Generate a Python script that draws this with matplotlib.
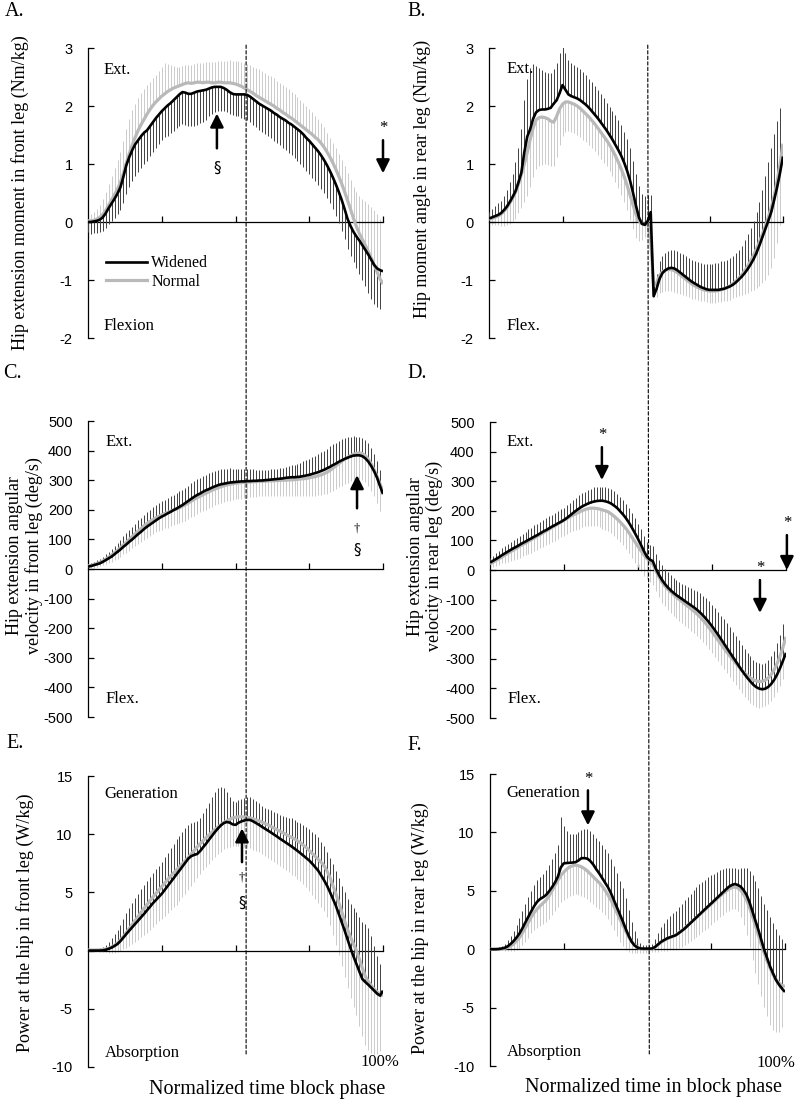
"""
Hip joint kinetics during the block phase: widened vs normal stance.
Six panels (A-F), mean curves with one-sided SD bars at every 1 %.
"""

import matplotlib
matplotlib.use('Agg')
import matplotlib.pyplot as plt
from matplotlib.lines import Line2D
from matplotlib.patches import ConnectionPatch

# normalized time (% of block phase)
PHASE_PCT = list(range(0, 101))

# ---- A: hip extension moment, front leg (Nm/kg)
A_WIDENED = [
    0.00, 0.00, 0.01, 0.02, 0.04, 0.08, 0.15, 0.24, 0.32, 0.40, 0.49,
    0.60, 0.78, 0.98, 1.12, 1.24, 1.34, 1.41, 1.48, 1.54, 1.58,
    1.65, 1.72, 1.79, 1.85, 1.91, 1.96, 2.01, 2.05, 2.10, 2.15,
    2.20, 2.24, 2.23, 2.21, 2.21, 2.23, 2.25, 2.26, 2.27, 2.28,
    2.30, 2.32, 2.33, 2.33, 2.33, 2.31, 2.28, 2.24, 2.21, 2.20,
    2.20, 2.20, 2.20, 2.19, 2.16, 2.12, 2.08, 2.04, 2.01, 1.98,
    1.95, 1.92, 1.88, 1.85, 1.81, 1.78, 1.75, 1.71, 1.68, 1.64,
    1.60, 1.56, 1.51, 1.45, 1.40, 1.34, 1.28, 1.22, 1.15, 1.07,
    0.98, 0.88, 0.77, 0.65, 0.52, 0.38, 0.22, 0.05, -0.07, -0.17,
    -0.25, -0.32, -0.40, -0.48, -0.56, -0.65, -0.74, -0.80, -0.83, -0.85]
A_WIDENED_SD = [
    0.18, 0.20, 0.20, 0.21, 0.22, 0.24, 0.26, 0.28, 0.30, 0.33, 0.36,
    0.40, 0.45, 0.50, 0.52, 0.54, 0.55, 0.55, 0.55, 0.54, 0.53,
    0.52, 0.52, 0.51, 0.51, 0.50, 0.50, 0.52, 0.52, 0.53, 0.53,
    0.54, 0.55, 0.55, 0.56, 0.56, 0.57, 0.57, 0.56, 0.55, 0.52,
    0.48, 0.45, 0.43, 0.42, 0.41, 0.40, 0.39, 0.38, 0.37, 0.37,
    0.38, 0.40, 0.42, 0.43, 0.44, 0.45, 0.45, 0.46, 0.46, 0.47,
    0.47, 0.47, 0.48, 0.48, 0.49, 0.50, 0.51, 0.52, 0.53, 0.54,
    0.55, 0.56, 0.57, 0.57, 0.58, 0.58, 0.58, 0.58, 0.58, 0.57,
    0.57, 0.56, 0.55, 0.55, 0.54, 0.53, 0.52, 0.51, 0.51, 0.52,
    0.54, 0.57, 0.60, 0.63, 0.66, 0.68, 0.68, 0.67, 0.67, 0.65]
A_NORMAL = [
    0.02, 0.02, 0.03, 0.05, 0.08, 0.13, 0.20, 0.29, 0.38, 0.47, 0.57,
    0.68, 0.84, 1.02, 1.18, 1.33, 1.46, 1.58, 1.68, 1.77, 1.86,
    1.94, 2.01, 2.07, 2.12, 2.17, 2.21, 2.25, 2.28, 2.31, 2.33,
    2.35, 2.37, 2.39, 2.40, 2.39, 2.40, 2.41, 2.41, 2.40, 2.41,
    2.41, 2.40, 2.40, 2.41, 2.41, 2.40, 2.40, 2.40, 2.39, 2.38,
    2.36, 2.34, 2.31, 2.28, 2.25, 2.22, 2.18, 2.15, 2.12, 2.09,
    2.06, 2.03, 2.00, 1.96, 1.93, 1.89, 1.86, 1.82, 1.79, 1.75,
    1.71, 1.67, 1.63, 1.59, 1.55, 1.51, 1.46, 1.42, 1.36, 1.29,
    1.21, 1.12, 1.02, 0.91, 0.79, 0.66, 0.52, 0.37, 0.22, 0.06,
    -0.08, -0.20, -0.30, -0.40, -0.51, -0.62, -0.74, -0.86, -0.98, -1.07]
A_NORMAL_SD = [
    0.10, 0.12, 0.15, 0.18, 0.22, 0.27, 0.32, 0.37, 0.42, 0.46, 0.50,
    0.53, 0.56, 0.58, 0.60, 0.60, 0.58, 0.56, 0.54, 0.52, 0.50,
    0.48, 0.47, 0.47, 0.48, 0.50, 0.54, 0.48, 0.42, 0.38, 0.35,
    0.33, 0.32, 0.31, 0.31, 0.31, 0.32, 0.33, 0.33, 0.34, 0.35,
    0.35, 0.36, 0.36, 0.37, 0.37, 0.38, 0.38, 0.39, 0.39, 0.40,
    0.41, 0.42, 0.43, 0.44, 0.45, 0.46, 0.47, 0.48, 0.48, 0.48,
    0.48, 0.48, 0.48, 0.47, 0.47, 0.47, 0.47, 0.47, 0.46, 0.45,
    0.44, 0.43, 0.42, 0.41, 0.40, 0.38, 0.37, 0.36, 0.35, 0.34,
    0.33, 0.33, 0.34, 0.36, 0.38, 0.41, 0.44, 0.47, 0.50, 0.54,
    0.59, 0.64, 0.70, 0.76, 0.82, 0.88, 0.94, 0.99, 1.03, 1.05]

# ---- B: hip moment, rear leg (Nm/kg)
B_WIDENED = [
    0.06, 0.08, 0.10, 0.12, 0.15, 0.20, 0.26, 0.34, 0.43, 0.53, 0.68,
    0.85, 1.20, 1.47, 1.60, 1.78, 1.89, 1.93, 1.94, 1.94, 1.95,
    1.97, 2.04, 2.10, 2.22, 2.36, 2.28, 2.20, 2.17, 2.15, 2.13,
    2.10, 2.06, 2.02, 1.97, 1.91, 1.85, 1.79, 1.72, 1.65, 1.58,
    1.50, 1.42, 1.33, 1.24, 1.14, 1.02, 0.88, 0.71, 0.50, 0.28,
    0.08, -0.03, -0.05, 0.02, 0.17, -1.28, -1.15, -0.98, -0.88, -0.83,
    -0.80, -0.79, -0.80, -0.83, -0.87, -0.91, -0.95, -0.99, -1.03, -1.06,
    -1.09, -1.12, -1.14, -1.16, -1.17, -1.17, -1.17, -1.17, -1.16, -1.15,
    -1.13, -1.11, -1.08, -1.04, -0.99, -0.94, -0.88, -0.81, -0.73, -0.64,
    -0.53, -0.40, -0.26, -0.12, 0.02, 0.17, 0.38, 0.60, 0.85, 1.13]
B_WIDENED_SD = [
    0.12, 0.15, 0.18, 0.20, 0.22, 0.25, 0.30, 0.35, 0.40, 0.50, 0.60,
    0.75, 0.90, 1.00, 1.05, 0.95, 0.80, 0.72, 0.68, 0.65, 0.62,
    0.60, 0.60, 0.64, 0.70, 0.68, 0.64, 0.60, 0.57, 0.55, 0.54,
    0.53, 0.52, 0.51, 0.50, 0.50, 0.49, 0.49, 0.48, 0.48, 0.48,
    0.49, 0.50, 0.51, 0.52, 0.53, 0.54, 0.55, 0.56, 0.56, 0.55,
    0.54, 0.52, 0.50, 0.45, 0.30, 0.20, 0.25, 0.30, 0.30, 0.30,
    0.30, 0.31, 0.32, 0.33, 0.34, 0.35, 0.36, 0.37, 0.38, 0.39,
    0.40, 0.41, 0.42, 0.43, 0.44, 0.45, 0.46, 0.47, 0.48, 0.48,
    0.48, 0.49, 0.49, 0.50, 0.50, 0.53, 0.57, 0.60, 0.63, 0.66,
    0.70, 0.75, 0.82, 0.92, 1.02, 1.10, 1.14, 1.15, 1.12, 1.10]
B_NORMAL = [
    0.05, 0.06, 0.08, 0.10, 0.13, 0.18, 0.24, 0.32, 0.41, 0.51, 0.65,
    0.82, 1.00, 1.20, 1.42, 1.62, 1.76, 1.80, 1.81, 1.80, 1.78,
    1.74, 1.72, 1.82, 1.95, 2.03, 2.07, 2.07, 2.05, 2.03, 2.00,
    1.96, 1.91, 1.86, 1.81, 1.75, 1.69, 1.62, 1.55, 1.48, 1.41,
    1.33, 1.24, 1.14, 1.03, 0.91, 0.78, 0.63, 0.46, 0.29, 0.13,
    0.02, -0.03, -0.04, -0.02, -0.30, -1.10, -1.05, -0.92, -0.86, -0.83,
    -0.82, -0.82, -0.84, -0.87, -0.91, -0.95, -0.99, -1.03, -1.07, -1.10,
    -1.13, -1.15, -1.17, -1.18, -1.19, -1.19, -1.19, -1.18, -1.17, -1.15,
    -1.13, -1.10, -1.06, -1.02, -0.97, -0.91, -0.84, -0.76, -0.67, -0.57,
    -0.46, -0.34, -0.21, -0.07, 0.08, 0.25, 0.45, 0.70, 1.00, 1.35]
B_NORMAL_SD = [
    0.10, 0.12, 0.14, 0.16, 0.20, 0.25, 0.30, 0.35, 0.40, 0.45, 0.50,
    0.58, 0.66, 0.75, 0.82, 0.85, 0.85, 0.84, 0.82, 0.80, 0.80,
    0.78, 0.76, 0.70, 0.62, 0.55, 0.52, 0.50, 0.50, 0.50, 0.50,
    0.49, 0.49, 0.48, 0.48, 0.48, 0.47, 0.47, 0.46, 0.46, 0.45,
    0.45, 0.45, 0.45, 0.45, 0.45, 0.44, 0.43, 0.42, 0.41, 0.40,
    0.35, 0.28, 0.22, 0.18, 0.15, 0.20, 0.25, 0.30, 0.34, 0.36,
    0.37, 0.37, 0.36, 0.35, 0.33, 0.31, 0.29, 0.27, 0.25, 0.23,
    0.22, 0.21, 0.20, 0.20, 0.20, 0.20, 0.20, 0.20, 0.21, 0.22,
    0.23, 0.24, 0.25, 0.27, 0.30, 0.35, 0.40, 0.46, 0.52, 0.60,
    0.68, 0.76, 0.85, 0.93, 1.00, 1.05, 1.07, 1.07, 1.05, 1.05]

# ---- C: hip extension angular velocity, front leg (deg/s)
C_WIDENED = [
    8, 10, 13, 16, 19, 24, 30, 36, 42, 50, 58,
    66, 75, 83, 92, 100, 109, 118, 126, 135, 143,
    150, 157, 164, 171, 177, 182, 188, 193, 199, 204,
    210, 216, 223, 230, 237, 244, 250, 255, 261, 266,
    270, 275, 279, 283, 286, 288, 290, 292, 293, 294,
    295, 296, 296, 297, 297, 298, 298, 299, 299, 300,
    301, 302, 303, 304, 305, 306, 308, 309, 310, 310,
    311, 312, 314, 316, 318, 321, 324, 327, 331, 335,
    340, 345, 351, 356, 362, 367, 372, 376, 380, 383,
    384, 384, 381, 374, 363, 348, 330, 308, 280, 253]
C_WIDENED_SD = [
    10, 11, 12, 14, 16, 18, 20, 23, 26, 28, 30,
    33, 35, 38, 40, 42, 44, 46, 47, 49, 50,
    51, 51, 52, 52, 52, 52, 52, 52, 52, 52,
    52, 52, 52, 52, 52, 52, 53, 53, 53, 53,
    53, 53, 52, 52, 52, 50, 49, 48, 46, 45,
    44, 43, 42, 41, 40, 39, 38, 37, 36, 35,
    35, 35, 35, 35, 35, 36, 37, 38, 40, 42,
    44, 47, 50, 53, 55, 57, 59, 61, 63, 65,
    67, 69, 70, 71, 72, 72, 71, 69, 67, 65,
    63, 62, 62, 62, 62, 61, 60, 58, 55, 52]
C_NORMAL = [
    10, 12, 15, 18, 22, 27, 33, 40, 47, 55, 63,
    72, 81, 90, 100, 110, 119, 128, 137, 146, 154,
    161, 167, 173, 178, 183, 187, 191, 195, 199, 203,
    207, 212, 217, 223, 229, 235, 241, 246, 251, 256,
    261, 266, 270, 274, 278, 281, 284, 286, 288, 290,
    291, 292, 293, 294, 294, 295, 295, 296, 296, 297,
    297, 298, 298, 299, 299, 300, 300, 301, 301, 302,
    303, 304, 305, 306, 308, 310, 312, 315, 318, 322,
    327, 333, 340, 348, 356, 364, 371, 377, 383, 388,
    391, 392, 390, 383, 371, 355, 335, 312, 287, 262]
C_NORMAL_SD = [
    8, 9, 10, 12, 13, 15, 17, 20, 23, 25, 28,
    30, 32, 35, 38, 40, 42, 44, 45, 47, 48,
    48, 49, 49, 50, 50, 50, 51, 51, 52, 52,
    53, 53, 54, 54, 55, 55, 55, 55, 55, 55,
    55, 55, 55, 55, 55, 55, 55, 55, 55, 55,
    54, 54, 53, 53, 52, 52, 51, 51, 50, 50,
    50, 51, 51, 52, 52, 53, 53, 54, 54, 55,
    56, 57, 58, 59, 60, 62, 64, 66, 68, 70,
    72, 74, 76, 78, 80, 82, 84, 85, 87, 88,
    89, 89, 90, 90, 90, 90, 90, 90, 92, 95]

# ---- D: hip extension angular velocity, rear leg (deg/s)
D_WIDENED = [
    25, 31, 37, 43, 50, 56, 62, 68, 74, 79, 85,
    91, 96, 102, 107, 113, 118, 124, 130, 135, 141,
    147, 152, 158, 163, 169, 176, 184, 192, 200, 207,
    214, 219, 224, 228, 231, 233, 234, 234, 232, 229,
    224, 217, 209, 198, 187, 174, 159, 142, 124, 105,
    85, 64, 45, 35, 30, 5, -15, -32, -46, -58,
    -68, -77, -85, -92, -99, -106, -113, -120, -127, -135,
    -144, -154, -165, -177, -190, -204, -218, -233, -248, -263,
    -278, -293, -308, -323, -338, -352, -365, -377, -388, -396,
    -401, -403, -401, -395, -385, -371, -353, -331, -306, -280]
D_WIDENED_SD = [
    15, 17, 19, 21, 23, 25, 26, 27, 28, 29, 30,
    32, 33, 35, 36, 38, 38, 39, 39, 40, 40,
    40, 41, 41, 42, 42, 43, 43, 44, 44, 45,
    45, 46, 46, 47, 48, 48, 48, 48, 48, 48,
    48, 49, 49, 50, 50, 50, 51, 51, 52, 52,
    52, 52, 51, 51, 50, 50, 50, 50, 50, 50,
    51, 51, 52, 52, 53, 54, 56, 58, 60, 63,
    65, 67, 69, 71, 73, 75, 77, 79, 81, 83,
    84, 85, 85, 85, 85, 85, 85, 85, 85, 85,
    86, 87, 88, 90, 93, 98, 105, 113, 122, 135]
D_NORMAL = [
    20, 26, 32, 38, 44, 50, 56, 62, 68, 74, 80,
    86, 91, 97, 103, 108, 114, 120, 126, 132, 138,
    144, 150, 156, 162, 168, 174, 180, 185, 190, 195,
    200, 204, 207, 209, 209, 208, 206, 203, 200, 196,
    189, 181, 172, 162, 151, 139, 125, 110, 95, 80,
    65, 51, 39, 30, 20, -2, -22, -40, -53, -64,
    -74, -83, -92, -100, -108, -116, -124, -132, -140, -149,
    -159, -170, -182, -195, -208, -222, -236, -250, -264, -277,
    -290, -302, -314, -326, -338, -348, -357, -365, -371, -375,
    -377, -376, -372, -365, -353, -337, -316, -291, -260, -226]
D_NORMAL_SD = [
    12, 15, 17, 20, 22, 25, 28, 31, 33, 36, 38,
    40, 41, 43, 44, 45, 46, 47, 48, 49, 50,
    50, 51, 51, 52, 52, 53, 53, 54, 54, 55,
    56, 57, 58, 59, 60, 61, 62, 63, 64, 65,
    65, 66, 67, 67, 68, 68, 69, 69, 70, 70,
    70, 70, 70, 70, 70, 70, 70, 70, 70, 70,
    71, 71, 71, 72, 72, 72, 72, 73, 73, 73,
    73, 73, 72, 72, 72, 72, 71, 71, 70, 70,
    71, 72, 74, 76, 78, 80, 82, 84, 86, 87,
    88, 88, 89, 89, 90, 92, 95, 100, 108, 118]

# ---- E: hip power, front leg (W/kg)
E_WIDENED = [
    0.00, 0.00, 0.00, 0.00, 0.00, 0.02, 0.07, 0.15, 0.26, 0.40, 0.57,
    0.82, 1.12, 1.43, 1.72, 2.01, 2.30, 2.58, 2.87, 3.15, 3.46,
    3.76, 4.07, 4.34, 4.61, 4.88, 5.21, 5.55, 5.88, 6.21, 6.55,
    6.88, 7.22, 7.56, 7.90, 8.12, 8.22, 8.30, 8.55, 8.87, 9.18,
    9.52, 9.85, 10.18, 10.48, 10.75, 10.95, 11.05, 11.00, 10.85, 10.80,
    10.98, 11.10, 11.18, 11.23, 11.22, 11.10, 10.95, 10.80, 10.63, 10.47,
    10.31, 10.15, 9.98, 9.81, 9.63, 9.46, 9.29, 9.12, 8.95, 8.76,
    8.57, 8.37, 8.16, 7.95, 7.74, 7.47, 7.18, 6.88, 6.48, 6.05,
    5.59, 5.04, 4.46, 3.87, 3.16, 2.44, 1.72, 0.95, 0.20, -0.50,
    -1.15, -1.80, -2.44, -2.70, -2.93, -3.18, -3.44, -3.70, -3.87, -3.44]
E_WIDENED_SD = [
    0.10, 0.10, 0.10, 0.15, 0.20, 0.30, 0.45, 0.60, 0.80, 1.00, 1.20,
    1.40, 1.60, 1.80, 1.95, 2.10, 2.20, 2.30, 2.40, 2.45, 2.50,
    2.55, 2.60, 2.65, 2.70, 2.75, 2.80, 2.85, 2.90, 2.95, 3.00,
    3.00, 3.00, 2.95, 2.90, 2.85, 2.80, 2.80, 2.85, 2.95, 3.05,
    3.20, 3.35, 3.45, 3.45, 3.30, 3.00, 2.60, 2.20, 2.00, 1.95,
    1.95, 1.95, 1.95, 2.00, 2.00, 1.95, 1.90, 1.85, 1.80, 1.80,
    1.85, 1.90, 1.95, 2.00, 2.05, 2.10, 2.20, 2.30, 2.40, 2.45,
    2.50, 2.55, 2.60, 2.65, 2.70, 2.75, 2.80, 2.85, 2.85, 2.90,
    2.90, 2.95, 2.95, 3.00, 3.05, 3.15, 3.30, 3.50, 3.80, 4.20,
    4.50, 4.70, 4.90, 5.00, 4.90, 4.40, 3.80, 3.20, 2.70, 2.30]
E_NORMAL = [
    0.05, 0.05, 0.05, 0.05, 0.06, 0.08, 0.12, 0.20, 0.32, 0.46, 0.64,
    0.90, 1.20, 1.55, 1.90, 2.25, 2.60, 2.95, 3.30, 3.63, 3.95,
    4.28, 4.60, 4.90, 5.20, 5.50, 5.80, 6.10, 6.40, 6.67, 6.93,
    7.20, 7.47, 7.73, 8.00, 8.30, 8.60, 8.90, 9.17, 9.44, 9.70,
    9.93, 10.17, 10.40, 10.60, 10.80, 11.00, 11.13, 11.27, 11.40, 11.45,
    11.50, 11.50, 11.47, 11.43, 11.40, 11.32, 11.23, 11.15, 11.03, 10.92,
    10.80, 10.67, 10.53, 10.40, 10.27, 10.13, 10.00, 9.87, 9.73, 9.60,
    9.43, 9.27, 9.05, 8.85, 8.60, 8.35, 8.10, 7.85, 7.60, 7.30,
    6.85, 6.30, 5.60, 4.90, 4.15, 3.35, 2.55, 1.80, 1.15, 0.55,
    0.00, -0.75, -1.50, -2.20, -2.65, -3.00, -3.30, -3.55, -3.75, -3.90]
E_NORMAL_SD = [
    0.10, 0.10, 0.10, 0.12, 0.15, 0.20, 0.28, 0.38, 0.50, 0.65, 0.80,
    0.95, 1.10, 1.30, 1.50, 1.70, 1.85, 2.00, 2.15, 2.30, 2.40,
    2.50, 2.60, 2.65, 2.70, 2.75, 2.80, 2.85, 2.90, 2.95, 3.00,
    2.95, 2.90, 2.85, 2.80, 2.75, 2.70, 2.65, 2.60, 2.55, 2.50,
    2.45, 2.40, 2.35, 2.30, 2.30, 2.30, 2.35, 2.40, 2.40, 2.45,
    2.50, 2.50, 2.55, 2.60, 2.60, 2.65, 2.70, 2.70, 2.75, 2.80,
    2.85, 2.90, 2.95, 3.00, 3.00, 3.05, 3.10, 3.15, 3.20, 3.20,
    3.25, 3.30, 3.35, 3.40, 3.50, 3.60, 3.70, 3.80, 3.85, 3.90,
    4.00, 4.10, 4.25, 4.40, 4.55, 4.70, 4.85, 5.00, 5.20, 5.40,
    5.55, 5.70, 5.80, 5.90, 5.90, 5.80, 5.60, 5.30, 4.90, 4.20]

# ---- F: hip power, rear leg (W/kg)
F_WIDENED = [
    0.00, 0.00, 0.00, 0.02, 0.06, 0.12, 0.25, 0.45, 0.70, 1.00, 1.35,
    1.80, 2.30, 2.78, 3.25, 3.70, 4.07, 4.30, 4.45, 4.64, 4.95,
    5.30, 5.70, 6.20, 7.00, 7.35, 7.38, 7.40, 7.42, 7.45, 7.60,
    7.79, 7.80, 7.75, 7.55, 7.25, 6.85, 6.50, 6.10, 5.70, 5.30,
    4.80, 4.20, 3.60, 3.00, 2.40, 1.75, 1.15, 0.65, 0.32, 0.14,
    0.06, 0.05, 0.05, 0.05, 0.06, 0.20, 0.42, 0.63, 0.78, 0.92,
    1.02, 1.11, 1.20, 1.38, 1.57, 1.77, 2.01, 2.25, 2.49, 2.73,
    2.97, 3.21, 3.45, 3.69, 3.92, 4.16, 4.40, 4.64, 4.88, 5.12,
    5.35, 5.50, 5.58, 5.50, 5.35, 5.05, 4.64, 4.00, 3.21, 2.42,
    1.63, 0.77, -0.09, -0.80, -1.52, -2.10, -2.66, -3.05, -3.38, -3.66]
F_WIDENED_SD = [
    0.05, 0.05, 0.10, 0.15, 0.25, 0.35, 0.50, 0.70, 0.90, 1.10, 1.30,
    1.45, 1.60, 1.70, 1.75, 1.80, 1.85, 1.90, 2.00, 2.10, 2.25,
    2.40, 2.55, 2.70, 4.30, 3.20, 2.70, 2.50, 2.45, 2.40, 2.40,
    2.40, 2.45, 2.50, 2.55, 2.60, 2.70, 2.75, 2.80, 2.85, 2.90,
    2.90, 2.90, 2.90, 2.85, 2.80, 2.60, 2.20, 1.70, 1.20, 0.80,
    0.50, 0.35, 0.30, 0.30, 0.40, 0.70, 1.00, 1.30, 1.50, 1.70,
    1.85, 2.00, 2.10, 2.20, 2.30, 2.40, 2.45, 2.50, 2.55, 2.60,
    2.60, 2.55, 2.50, 2.45, 2.40, 2.30, 2.20, 2.10, 2.00, 1.80,
    1.60, 1.45, 1.35, 1.40, 1.60, 1.90, 2.30, 2.70, 3.10, 3.40,
    3.60, 3.80, 4.00, 4.15, 4.30, 4.35, 4.35, 4.30, 4.25, 4.20]
F_NORMAL = [
    0.00, 0.00, 0.00, 0.00, 0.03, 0.08, 0.15, 0.28, 0.45, 0.70, 1.00,
    1.40, 1.85, 2.30, 2.75, 3.15, 3.45, 3.70, 3.95, 4.20, 4.55,
    5.00, 5.45, 5.90, 6.30, 6.60, 6.85, 7.05, 7.15, 7.20, 7.15,
    7.05, 6.90, 6.70, 6.45, 6.20, 5.95, 5.70, 5.40, 5.05, 4.65,
    4.20, 3.70, 3.15, 2.60, 2.05, 1.55, 1.05, 0.65, 0.35, 0.15,
    0.05, 0.00, 0.00, 0.00, 0.02, 0.20, 0.40, 0.60, 0.75, 0.88,
    1.00, 1.10, 1.22, 1.40, 1.60, 1.80, 2.03, 2.26, 2.49, 2.72,
    2.95, 3.18, 3.41, 3.64, 3.87, 4.10, 4.33, 4.55, 4.77, 4.97,
    5.15, 5.28, 5.32, 5.25, 5.05, 4.70, 4.20, 3.55, 2.80, 2.00,
    1.20, 0.40, -0.35, -1.05, -1.65, -2.20, -2.60, -2.90, -3.10, -3.20]
F_NORMAL_SD = [
    0.05, 0.05, 0.05, 0.08, 0.12, 0.20, 0.30, 0.45, 0.60, 0.75, 0.90,
    1.05, 1.20, 1.30, 1.40, 1.50, 1.60, 1.70, 1.80, 1.90, 2.00,
    2.10, 2.20, 2.25, 2.30, 2.40, 2.45, 2.50, 2.50, 2.50, 2.50,
    2.50, 2.45, 2.40, 2.40, 2.30, 2.30, 2.25, 2.20, 2.15, 2.10,
    2.10, 2.05, 2.00, 1.95, 1.80, 1.60, 1.30, 1.00, 0.70, 0.50,
    0.35, 0.30, 0.30, 0.30, 0.30, 0.40, 0.60, 0.75, 0.90, 1.00,
    1.10, 1.20, 1.25, 1.30, 1.40, 1.45, 1.50, 1.60, 1.65, 1.70,
    1.75, 1.75, 1.80, 1.80, 1.80, 1.80, 1.80, 1.80, 1.80, 1.80,
    1.85, 1.85, 1.90, 2.00, 2.30, 2.60, 3.00, 3.40, 3.70, 4.00,
    4.20, 4.40, 4.60, 4.70, 4.80, 4.70, 4.50, 4.20, 3.60, 2.80]

# figure size in pixels and colours
FIG_W, FIG_H = 797, 1100
BLACK_BAR = '#404040'
GRAY_BAR = '#cbcbcb'
GRAY_LINE = '#b9b9b9'
SERIF = 'Liberation Serif'
SANS = 'Liberation Sans'


def px_box(left, top, right, bottom):
    """Convert a pixel box (origin top-left) to figure fractions."""
    return [left / FIG_W, 1 - bottom / FIG_H, (right - left) / FIG_W, (bottom - top) / FIG_H]


def draw_series(ax, wid, wid_sd, nor, nor_sd, widened_down):
    """Mean curves plus one-sided SD bars at every percent."""
    for arr in (wid, wid_sd, nor, nor_sd):
        assert len(arr) == len(PHASE_PCT)
    if widened_down:
        wid_end = [m - s for m, s in zip(wid, wid_sd)]
        nor_end = [m + s for m, s in zip(nor, nor_sd)]
    else:
        wid_end = [m + s for m, s in zip(wid, wid_sd)]
        nor_end = [m - s for m, s in zip(nor, nor_sd)]
    ax.vlines(PHASE_PCT, nor, nor_end, colors=GRAY_BAR, lw=0.7, zorder=2)
    ax.vlines(PHASE_PCT, wid, wid_end, colors=BLACK_BAR, lw=0.7, zorder=3)
    ax.plot(PHASE_PCT, nor, color=GRAY_LINE, lw=2.3, zorder=4, solid_capstyle='butt')
    ax.plot(PHASE_PCT, wid, color='black', lw=1.9, zorder=5, solid_capstyle='butt')


def style_axis(ax, ylim, yticks, ylabel, label_xy):
    ax.set_xlim(0, 100)
    ax.set_ylim(*ylim)
    ax.set_yticks(yticks)
    ax.set_xticks([25, 50, 75, 100])
    ax.set_xticklabels([])
    for side in ('top', 'right'):
        ax.spines[side].set_visible(False)
    ax.spines['bottom'].set_position(('data', 0))
    ax.spines['bottom'].set_linewidth(0.9)
    ax.spines['left'].set_linewidth(0.9)
    ax.tick_params(axis='x', direction='in', length=4, width=0.9)
    ax.tick_params(axis='y', direction='in', length=4, width=0.9, pad=11, labelsize=10.5)
    for lbl in ax.get_yticklabels():
        lbl.set_fontfamily(SANS)
    ax.set_ylabel(ylabel, fontsize=13, fontfamily=SERIF, va='center',
                  multialignment='center', linespacing=1.15)
    ax.yaxis.set_label_coords(*label_xy)
    ax.patch.set_alpha(0)


def arrow(ax, x, y_from, y_to):
    ax.annotate('', xy=(x, y_to), xytext=(x, y_from),
                arrowprops=dict(arrowstyle='-|>', color='black', lw=1.8,
                                mutation_scale=20, shrinkA=0, shrinkB=0),
                annotation_clip=False, zorder=6)


def note(ax, x, y, s, size=11, family='DejaVu Sans'):
    ax.text(x, y, s, ha='center', va='center', fontsize=size, fontfamily=family,
            clip_on=False, zorder=6)


def side_text(ax, x, y, s):
    ax.text(x, y, s, ha='left', va='center', fontsize=12, fontfamily=SERIF, zorder=6)


def main():
    plt.rcParams['font.family'] = SERIF
    plt.rcParams['axes.unicode_minus'] = False
    fig = plt.figure(figsize=(FIG_W / 100, FIG_H / 100), dpi=100)

    ax_a = fig.add_axes(px_box(88, 48, 383, 338))
    ax_b = fig.add_axes(px_box(489, 48, 783, 338))
    ax_c = fig.add_axes(px_box(88, 421, 383, 717))
    ax_d = fig.add_axes(px_box(490, 422, 786, 718))
    ax_e = fig.add_axes(px_box(88, 776, 383, 1067))
    ax_f = fig.add_axes(px_box(490, 774, 785, 1066))

    draw_series(ax_a, A_WIDENED, A_WIDENED_SD, A_NORMAL, A_NORMAL_SD, True)
    draw_series(ax_b, B_WIDENED, B_WIDENED_SD, B_NORMAL, B_NORMAL_SD, False)
    draw_series(ax_c, C_WIDENED, C_WIDENED_SD, C_NORMAL, C_NORMAL_SD, False)
    draw_series(ax_d, D_WIDENED, D_WIDENED_SD, D_NORMAL, D_NORMAL_SD, False)
    draw_series(ax_e, E_WIDENED, E_WIDENED_SD, E_NORMAL, E_NORMAL_SD, False)
    draw_series(ax_f, F_WIDENED, F_WIDENED_SD, F_NORMAL, F_NORMAL_SD, False)

    style_axis(ax_a, (-2, 3), [-2, -1, 0, 1, 2, 3],
               'Hip extension moment in front leg (Nm/kg)', (-0.23, 0.5))
    style_axis(ax_b, (-2, 3), [-2, -1, 0, 1, 2, 3],
               'Hip moment angle in rear leg (Nm/kg)', (-0.228, 0.548))
    vel_ticks = list(range(-500, 501, 100))
    style_axis(ax_c, (-500, 500), vel_ticks,
               'Hip extension angular\nvelocity in front leg (deg/s)', (-0.214, 0.547))
    style_axis(ax_d, (-500, 500), vel_ticks,
               'Hip extension angular\nvelocity in rear leg (deg/s)', (-0.22, 0.547))
    style_axis(ax_e, (-10, 15), [-10, -5, 0, 5, 10, 15],
               'Power at the hip in front leg (W/kg)', (-0.214, 0.495))
    style_axis(ax_f, (-10, 15), [-10, -5, 0, 5, 10, 15],
               'Power at the hip in rear leg (W/kg)', (-0.237, 0.473))

    # direction labels
    side_text(ax_a, 5.1, 2.62, 'Ext.')
    side_text(ax_a, 5.4, -1.79, 'Flexion')
    side_text(ax_b, 5.8, 2.64, 'Ext.')
    side_text(ax_b, 5.8, -1.79, 'Flex.')
    side_text(ax_c, 5.8, 428, 'Ext.')
    side_text(ax_c, 6.0, -438, 'Flex.')
    side_text(ax_d, 5.7, 432, 'Ext.')
    side_text(ax_d, 5.8, -436, 'Flex.')
    side_text(ax_e, 5.4, 13.45, 'Generation')
    side_text(ax_e, 5.8, -8.8, 'Absorption')
    side_text(ax_f, 5.4, 13.4, 'Generation')
    side_text(ax_f, 5.8, -8.8, 'Absorption')

    # significance markers
    arrow(ax_a, 43.7, 1.27, 1.87)
    note(ax_a, 43.7, 0.93, '§')
    note(ax_a, 100, 1.62, '*', 12, SERIF)
    arrow(ax_a, 100, 1.41, 0.84)

    arrow(ax_c, 91.2, 205, 317)
    note(ax_c, 91.2, 138, '†', 9, SERIF)
    note(ax_c, 91.2, 64, '§')

    note(ax_d, 37.8, 456, '*', 12, SERIF)
    arrow(ax_d, 37.8, 415, 304)
    note(ax_d, 100.3, 159, '*', 12, SERIF)
    arrow(ax_d, 100.3, 118, 0)
    note(ax_d, 91.2, 7, '*', 12, SERIF)
    arrow(ax_d, 91.2, -34, -145)

    arrow(ax_e, 52.2, 7.6, 10.5)
    note(ax_e, 52.2, 6.3, '†', 9, SERIF)
    note(ax_e, 52.2, 4.05, '§')

    note(ax_f, 33.2, 14.6, '*', 12, SERIF)
    arrow(ax_f, 33.2, 13.6, 10.6)

    # legend in panel A
    handles = [Line2D([], [], color='black', lw=1.9, label='Widened'),
               Line2D([], [], color=GRAY_LINE, lw=2.3, label='Normal')]
    ax_a.legend(handles=handles, loc='upper left', bbox_to_anchor=(0.06, 0.285),
                frameon=False, fontsize=11.5, handlelength=2.6, handletextpad=0.25,
                labelspacing=0.15, borderpad=0, borderaxespad=0)

    # x labels and end marks
    ax_e.text(0.607, -0.079, 'Normalized time block phase', transform=ax_e.transAxes,
              ha='center', va='center', fontsize=14.5)
    ax_f.text(0.553, -0.075, 'Normalized time in block phase', transform=ax_f.transAxes,
              ha='center', va='center', fontsize=14.5)
    ax_e.text(0.922, 0.017, '100%', transform=ax_e.transAxes, ha='left', va='center',
              fontsize=12, clip_on=False)
    ax_f.text(0.905, 0.01, '100%', transform=ax_f.transAxes, ha='left', va='center',
              fontsize=12, clip_on=False)

    # dashed phase line running through each column
    for top_ax, bot_ax, x in ((ax_a, ax_e, 53.6), (ax_b, ax_f, 54.0)):
        con = ConnectionPatch(xyA=(x, 3.05), coordsA=top_ax.transData,
                              xyB=(x, -9.05), coordsB=bot_ax.transData,
                              color='black', lw=0.8, linestyle=(0, (3, 2)), zorder=1)
        fig.add_artist(con)

    # panel letters
    for s, xp, yp in (('A.', 5, 11), ('B.', 407, 11), ('C.', 3, 373),
                      ('D.', 407, 373), ('E.', 6, 743), ('F.', 407, 745)):
        fig.text(xp / FIG_W, 1 - yp / FIG_H, s, ha='left', va='center', fontsize=14.5)

    fig.savefig('out.png', dpi=100)
    plt.close(fig)
    print('Saved: out.png')


if __name__ == '__main__':
    main()
